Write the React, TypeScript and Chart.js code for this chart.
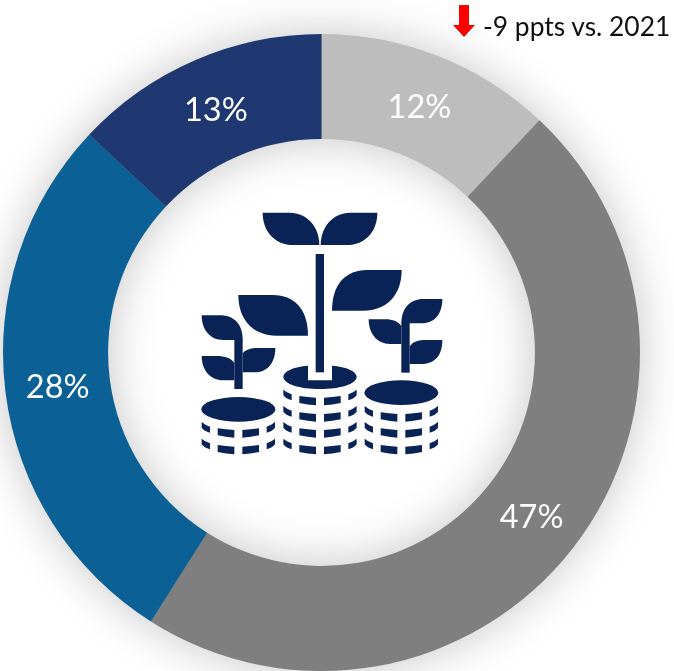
import React, { useEffect, useRef } from "react";
import { Chart, registerables } from "chart.js";

Chart.register(...registerables);

const categories = ["Segment A", "Segment B", "Segment C", "Segment D"];
const shares = [12, 47, 28, 13];
const colors = ["#BDBDBD", "#7F7F7F", "#0B6196", "#1F3871"];
const annotation = "-9 ppts vs. 2021";

const ICON = "#0A2357";

const ringShadow = {
  id: "ringShadow",
  beforeDatasetsDraw(chart: any) {
    const arc = chart.getDatasetMeta(0).data[0];
    if (!arc) return;
    const { ctx } = chart;
    ctx.save();
    ctx.shadowColor = "rgba(0,0,0,0.24)";
    ctx.shadowBlur = 48;
    ctx.fillStyle = "#999";
    ctx.beginPath();
    ctx.arc(arc.x, arc.y, arc.outerRadius - 1, 0, Math.PI * 2);
    ctx.arc(arc.x, arc.y, arc.innerRadius + 1, 0, Math.PI * 2, true);
    ctx.fill();
    ctx.restore();
  },
};

const sliceLabels = {
  id: "sliceLabels",
  afterDatasetsDraw(chart: any) {
    const { ctx } = chart;
    ctx.save();
    ctx.fillStyle = "#FFFFFF";
    ctx.font = "32.5px Lato";
    ctx.textAlign = "center";
    ctx.textBaseline = "middle";
    chart.getDatasetMeta(0).data.forEach((arc: any, i: number) => {
      const p = arc.getCenterPoint();
      ctx.fillText(`${shares[i]}%`, p.x, p.y + 2);
    });
    ctx.restore();
  },
};

function CoinRow({ c, t }: { c: number; t: number }) {
  return (
    <g fill={ICON}>
      <path d={`M${c - 110},${t + 1} Q${c - 100},${t + 10} ${c - 85},${t + 15} V${t + 33} Q${c - 103},${t + 28} ${c - 110},${t + 18} Z`} />
      <path d={`M${c - 62},${t + 20} Q${c - 37},${t + 24} ${c - 12},${t + 25} V${t + 48} Q${c - 37},${t + 47} ${c - 62},${t + 41} Z`} />
      <path d={`M${c + 12},${t + 25} Q${c + 37},${t + 24} ${c + 62},${t + 20} V${t + 41} Q${c + 37},${t + 47} ${c + 12},${t + 48} Z`} />
      <path d={`M${c + 110},${t + 1} Q${c + 100},${t + 10} ${c + 85},${t + 15} V${t + 33} Q${c + 103},${t + 28} ${c + 110},${t + 18} Z`} />
    </g>
  );
}

function PlantIcon() {
  return (
    <svg
      viewBox="0 0 840 810"
      width={280}
      height={270}
      style={{ position: "absolute", left: 180, top: 200 }}
    >
      <g fill={ICON}>
        <path d="M248,38 H330 C380,38 418,80 418,135 H340 C285,135 248,95 248,38 Z" />
        <path d="M592,38 H510 C460,38 422,80 422,135 H500 C555,135 592,95 592,38 Z" />
        <rect x={407} y={162} width={25} height={355} />
        <path d="M665,210 H560 C500,210 456,250 456,332 H550 C620,332 665,285 665,210 Z" />
        <path d="M175,285 H280 C340,285 384,325 384,407 H290 C220,407 175,360 175,285 Z" />

        <path d="M65,346 H120 C160,346 188,370 188,420 H130 C90,420 65,390 65,346 Z" />
        <path d="M65,468 H110 C135,468 155,475 163,490 V541 H130 C90,541 65,510 65,468 Z" />
        <path d="M286,444 H235 C210,444 195,450 188,460 V517 H225 C260,517 286,490 286,444 Z" />
        <rect x={163} y={418} width={25} height={149} />

        <path d="M787,297 H730 C690,297 664,325 664,370 H725 C765,370 787,340 787,297 Z" />
        <path d="M566,358 H615 C640,358 655,365 664,378 V432 H630 C590,432 566,400 566,358 Z" />
        <path d="M787,420 H740 C715,420 697,425 689,440 V492 H725 C765,492 787,465 787,420 Z" />
        <rect x={664} y={368} width={25} height={150} />

        <ellipse cx={175} cy={628} rx={111} ry={37} />
        <ellipse cx={664} cy={578} rx={111} ry={37} />
        <path d="M384,497 C340,500 310,515 310,530 C310,552 360,567 420,567 C480,567 530,552 530,530 C530,515 500,500 456,497 V541 H384 Z" />
      </g>
      {[665, 715].map((t) => <CoinRow key={`l${t}`} c={175} t={t} />)}
      {[568, 617, 665, 715].map((t) => <CoinRow key={`m${t}`} c={420} t={t} />)}
      {[617, 665, 715].map((t) => <CoinRow key={`r${t}`} c={664} t={t} />)}
    </svg>
  );
}

export default function App() {
  const ref = useRef<HTMLCanvasElement>(null);

  useEffect(() => {
    const chart = new Chart(ref.current!, {
      type: "doughnut",
      data: {
        labels: categories,
        datasets: [{ data: shares, backgroundColor: colors, borderWidth: 0 }],
      },
      options: {
        animation: false,
        responsive: false,
        cutout: "67%",
        layout: { padding: { left: 3, right: 34, top: 34, bottom: 0 } },
        plugins: { legend: { display: false }, tooltip: { enabled: false } },
      },
      plugins: [ringShadow, sliceLabels],
    } as any);
    return () => chart.destroy();
  }, []);

  return (
    <div style={{ position: "absolute", left: 0, top: 0, width: 674, height: 671, overflow: "hidden", background: "#fff" }}>
      <canvas ref={ref} width={674} height={671} style={{ position: "absolute", left: 0, top: 0 }} />
      <PlantIcon />
      <svg width={30} height={40} style={{ position: "absolute", left: 450, top: 0 }}>
        <polygon points="9,5 19,5 19,25 25,25 14,37 3,25 9,25" fill="#FF0000" />
      </svg>
      <div
        style={{
          position: "absolute",
          left: 483,
          top: 12,
          fontFamily: "Lato",
          fontSize: 26.4,
          lineHeight: "28px",
          color: "#111",
          whiteSpace: "nowrap",
        }}
      >
        {annotation}
      </div>
    </div>
  );
}
